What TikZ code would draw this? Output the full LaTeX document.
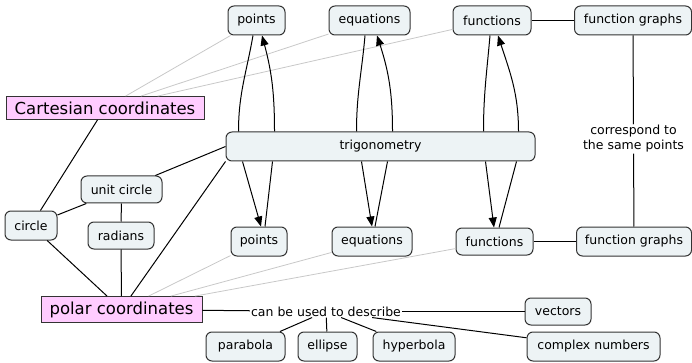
\documentclass[tikz,border=0pt]{standalone}
\usepackage{fontspec}
\setmainfont{DejaVu Sans}
\usetikzlibrary{arrows.meta}
\definecolor{conceptFill}{RGB}{237,243,245}
\definecolor{keyPink}{RGB}{255,204,255}
\definecolor{borderGray}{RGB}{51,51,51}
\definecolor{faintGray}{RGB}{200,200,200}
\tikzset{
  cpt/.style={draw=borderGray,fill=conceptFill,rounded corners=6pt,line width=1pt,
              minimum height=29pt,inner sep=0pt,font=\fontsize{12.5}{15}\selectfont},
  key/.style={draw=borderGray,fill=keyPink,line width=0.8pt,minimum height=23pt,
              inner sep=0pt,font=\fontsize{16.5}{19}\selectfont},
  lbl/.style={inner sep=1pt,font=\fontsize{12.5}{15}\selectfont,align=center},
  lnk/.style={line width=1pt,black},
  glnk/.style={line width=0.8pt,faintGray},
  arr/.style={lnk,-{Triangle[length=10pt,width=8pt]}},
}
\begin{document}
\begin{tikzpicture}[x=1pt,y=1pt]
  \useasboundingbox (0,0) rectangle (692,-363);
  % top row
  \node[cpt,minimum width=57pt]  (ptT) at (256.5,-20.5) {points};
  \node[cpt,minimum width=81pt]  (eqT) at (369.5,-20.5) {equations};
  \node[cpt,minimum width=78pt]  (fnT) at (492,-20.5)   {functions};
  \node[cpt,minimum width=117pt] (fgT) at (633,-20.5)   {function graphs};
  % middle
  \node[key,minimum width=198pt] (cart) at (105,-108)   {Cartesian coordinates};
  \node[cpt,minimum width=309pt] (trig) at (380.5,-146.5) {trigonometry};
  \node[lbl] (corr) at (633.5,-139) {correspond to\\the same points};
  \node[cpt,minimum width=81pt,minimum height=27pt] (unit) at (121.5,-189.5) {unit circle};
  \node[cpt,minimum width=52pt]  (circ) at (31,-225.5)  {circle};
  \node[cpt,minimum width=66pt,minimum height=27pt] (rad) at (121,-235.5) {radians};
  % bottom row
  \node[cpt,minimum width=56pt]  (ptB) at (259,-241.5)   {points};
  \node[cpt,minimum width=80pt]  (eqB) at (372,-241.5)   {equations};
  \node[cpt,minimum width=77pt,minimum height=27pt] (fnB) at (494.5,-241.5) {functions};
  \node[cpt,minimum width=115pt] (fgB) at (634,-241.5)   {function graphs};
  \node[key,minimum width=161pt,minimum height=26pt] (polar) at (121.5,-309.5) {polar coordinates};
  \node[lbl] (desc) at (326,-311.5) {can be used to describe};
  \node[cpt,minimum width=66pt,minimum height=27pt] (vec) at (558,-311.5) {vectors};
  \node[cpt,minimum width=79pt]  (para) at (245.5,-346.5) {parabola};
  \node[cpt,minimum width=59pt]  (ell)  at (327.5,-346.5) {ellipse};
  \node[cpt,minimum width=82pt]  (hyp)  at (414,-346.5)   {hyperbola};
  \node[cpt,minimum width=133pt] (cplx) at (593.5,-346.5) {complex numbers};

  \foreach \a/\b in {cart/ptT,cart/eqT,cart/fnT,polar/ptB,polar/eqB,polar/fnB}
    \draw[glnk] (\a)--(\b);
  \foreach \a/\b in {cart/circ,circ/unit,circ/polar,unit/rad,rad/polar,
                     fnT/fgT,fnB/fgB,fgT/corr,corr/fgB,polar/desc,desc/vec,
                     desc/para,desc/ell,desc/hyp,desc/cplx}
    \draw[lnk] (\a)--(\b);
  \draw[lnk] (trig.west)--(unit);
  \draw[lnk] (trig.south west)--(polar);

  % points
  \draw[lnk] ([xshift=13]trig.north west) to[out=90,in=-100] ([xshift=-3.5]ptT.south);
  \draw[arr] ([xshift=49]trig.north west) to[out=90,in=-75] ([xshift=5.5]ptT.south);
  \draw[arr] ([xshift=17]trig.south west)--([xshift=2]ptB.north);
  \draw[lnk] ([xshift=6]ptB.north)--([xshift=47]trig.south west);
  % equations
  \draw[lnk] ([xshift=131]trig.north west) to[out=90,in=-95] ([xshift=-4.5]eqT.south);
  \draw[arr] ([xshift=167]trig.north west) to[out=90,in=-72] ([xshift=7.5]eqT.south);
  \draw[arr] ([xshift=136]trig.south west)--(eqB.north);
  \draw[lnk] ([xshift=3]eqB.north)--([xshift=162]trig.south west);
  % functions
  \draw[lnk] ([xshift=258]trig.north west) to[out=90,in=-95] ([xshift=-2]fnT.south);
  \draw[arr] ([xshift=293]trig.north west) to[out=90,in=-72] ([xshift=6]fnT.south);
  \draw[arr] ([xshift=260]trig.south west)--([xshift=-0.5]fnB.north);
  \draw[lnk] ([xshift=4.5]fnB.north)--([xshift=291]trig.south west);
\end{tikzpicture}
\end{document}
